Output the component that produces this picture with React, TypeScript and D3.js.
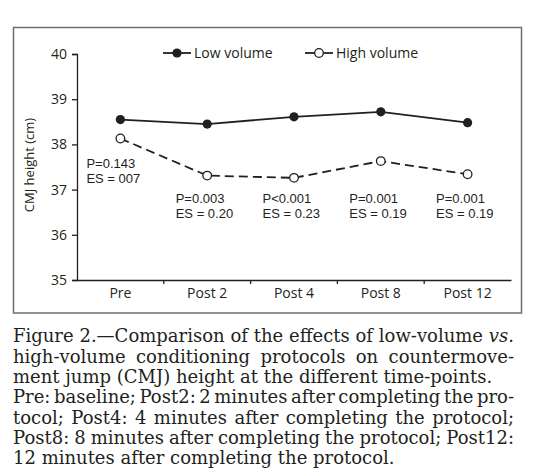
import React, { useEffect, useRef } from 'react';
import * as d3 from 'd3';

// Chart data
const timePoints = ['Pre', 'Post 2', 'Post 4', 'Post 8', 'Post 12'];
const lowVolume = [38.55, 38.45, 38.61, 38.72, 38.48];
const highVolume = [38.13, 37.31, 37.26, 37.63, 37.34];
const pLabels = ['P=0.143', 'P=0.003', 'P<0.001', 'P=0.001', 'P=0.001'];
const esLabels = ['ES = 007', 'ES = 0.20', 'ES = 0.23', 'ES = 0.19', 'ES = 0.19'];
const yTicks = [35, 36, 37, 38, 39, 40];
const seriesNames = ['Low volume', 'High volume'];

// Caption lines, justify = stretched to the full column width
const captionLines = [
  { text: 'Figure 2.—Comparison of the effects of low-volume vs.', justify: true },
  { text: 'high-volume conditioning protocols on countermove-', justify: true },
  { text: 'ment jump (CMJ) height at the different time-points.', justify: false },
  { text: 'Pre: baseline; Post2: 2 minutes after completing the pro-', justify: true },
  { text: 'tocol; Post4: 4 minutes after completing the protocol;', justify: true },
  { text: 'Post8: 8 minutes after completing the protocol; Post12:', justify: true },
  { text: '12 minutes after completing the protocol.', justify: false },
];
const italicWords = new Set(['vs.']);

const INK = '#231f20';
const SANS = '"Open Sans", "Noto Sans", sans-serif';
const NOTE_SANS = '"Liberation Sans", Arial, sans-serif';
const SERIF = '"DejaVu Serif", serif';

export default function App() {
  const svgRef = useRef<SVGSVGElement>(null);

  useEffect(() => {
    document.body.style.margin = '0';
    if (!svgRef.current) return;
    const svg = d3.select(svgRef.current);
    svg.selectAll('*').remove();

    const plot = { left: 77, right: 511, top: 54, bottom: 280 };

    // frame
    svg.append('rect')
      .attr('x', 13.5).attr('y', 27.5)
      .attr('width', 508).attr('height', 285.5)
      .attr('fill', 'none')
      .attr('stroke', '#6d6e71')
      .attr('stroke-width', 1.5);

    const xBand = d3.scaleBand<string>()
      .domain(timePoints)
      .range([plot.left, plot.right]);
    const xCenter = (c: string) => (xBand(c) ?? 0) + xBand.bandwidth() / 2;

    const yScale = d3.scaleLinear()
      .domain([35, 40])
      .range([plot.bottom, plot.top]);

    // Y axis
    svg.append('g')
      .attr('transform', `translate(${plot.left},0)`)
      .call(d3.axisLeft(yScale).tickValues(yTicks).tickSize(5).tickPadding(5).tickFormat(d3.format('d')))
      .call(g => g.select('.domain').attr('stroke', INK).attr('stroke-width', 1.3))
      .call(g => g.selectAll('.tick line').attr('stroke', INK).attr('stroke-width', 1.3))
      .call(g => g.selectAll('.tick text').attr('fill', INK).attr('font-size', 14).attr('font-family', SANS));

    // X axis (labels centred in bands, ticks on band boundaries)
    svg.append('g')
      .attr('transform', `translate(0,${plot.bottom})`)
      .call(d3.axisBottom(xBand).tickSize(0).tickPadding(8).tickSizeOuter(0))
      .call(g => g.select('.domain').attr('stroke', INK).attr('stroke-width', 1.3))
      .call(g => g.selectAll('.tick text').attr('fill', INK).attr('font-size', 14).attr('font-family', SANS));

    svg.append('g')
      .selectAll('line')
      .data(timePoints.slice(1))
      .enter()
      .append('line')
      .attr('x1', d => xBand(d) ?? 0)
      .attr('x2', d => xBand(d) ?? 0)
      .attr('y1', plot.bottom)
      .attr('y2', plot.bottom + 4)
      .attr('stroke', INK)
      .attr('stroke-width', 1.3);

    // Y label
    svg.append('text')
      .attr('transform', `translate(34,165) rotate(-90)`)
      .attr('text-anchor', 'middle')
      .attr('font-size', 13)
      .attr('font-family', SANS)
      .attr('fill', INK)
      .text('CMJ height (cm)');

    const line = d3.line<number>()
      .x((_, i) => xCenter(timePoints[i]))
      .y(d => yScale(d));

    svg.append('path')
      .datum(highVolume)
      .attr('fill', 'none')
      .attr('stroke', INK)
      .attr('stroke-width', 1.8)
      .attr('stroke-dasharray', '9,5')
      .attr('d', line);

    svg.append('path')
      .datum(lowVolume)
      .attr('fill', 'none')
      .attr('stroke', INK)
      .attr('stroke-width', 1.8)
      .attr('d', line);

    svg.append('g')
      .selectAll('circle')
      .data(lowVolume)
      .enter()
      .append('circle')
      .attr('cx', (_, i) => xCenter(timePoints[i]))
      .attr('cy', d => yScale(d))
      .attr('r', 4.6)
      .attr('fill', INK);

    svg.append('g')
      .selectAll('circle')
      .data(highVolume)
      .enter()
      .append('circle')
      .attr('cx', (_, i) => xCenter(timePoints[i]))
      .attr('cy', d => yScale(d))
      .attr('r', 4.3)
      .attr('fill', '#fff')
      .attr('stroke', INK)
      .attr('stroke-width', 1.3);

    // P / ES annotations, one two-line label per time-point
    const notes = svg.append('g')
      .attr('font-size', 13)
      .attr('font-family', NOTE_SANS)
      .attr('fill', INK);
    timePoints.forEach((c, i) => {
      const x = xCenter(c) - (i === 0 ? 34 : 31.5);
      const y = i === 0 ? 168 : 203;
      notes.append('text').attr('x', x).attr('y', y).text(pLabels[i]);
      notes.append('text').attr('x', x).attr('y', y + 15).text(esLabels[i]);
    });

    // Legend
    const legendX = [163, 305];
    seriesNames.forEach((name, i) => {
      const g = svg.append('g').attr('transform', `translate(${legendX[i]},53)`);
      g.append('line').attr('x1', 0).attr('x2', 28).attr('stroke', INK).attr('stroke-width', 1.8);
      g.append('circle')
        .attr('cx', 14).attr('r', i === 0 ? 4.6 : 4.3)
        .attr('fill', i === 0 ? INK : '#fff')
        .attr('stroke', i === 0 ? 'none' : INK)
        .attr('stroke-width', 1.3);
      g.append('text')
        .attr('x', 31).attr('y', 5)
        .attr('font-size', 14)
        .attr('font-family', SANS)
        .attr('fill', INK)
        .text(name);
    });

    // Caption, justified word by word
    const capLeft = 13;
    const capRight = 514;
    const capFont = 18;
    const cap = svg.append('g')
      .attr('font-family', SERIF)
      .attr('font-size', capFont)
      .attr('fill', INK);
    captionLines.forEach((ln, i) => {
      const y = 342.3 + i * 20.3;
      const words = ln.text.split(' ');
      const nodes = words.map(w =>
        cap.append('text')
          .attr('y', y)
          .attr('font-style', italicWords.has(w) ? 'italic' : 'normal')
          .text(w)
      );
      const widths = nodes.map(n => (n.node() as SVGTextElement).getComputedTextLength());
      const total = d3.sum(widths);
      const gap = ln.justify
        ? (capRight - capLeft - total) / (words.length - 1)
        : capFont * 0.318;
      let x = capLeft;
      nodes.forEach((n, j) => {
        n.attr('x', x);
        x += widths[j] + gap;
      });
    });
  }, []);

  return <svg ref={svgRef} width={541} height={476} style={{ display: 'block', background: '#fff' }} />;
}
